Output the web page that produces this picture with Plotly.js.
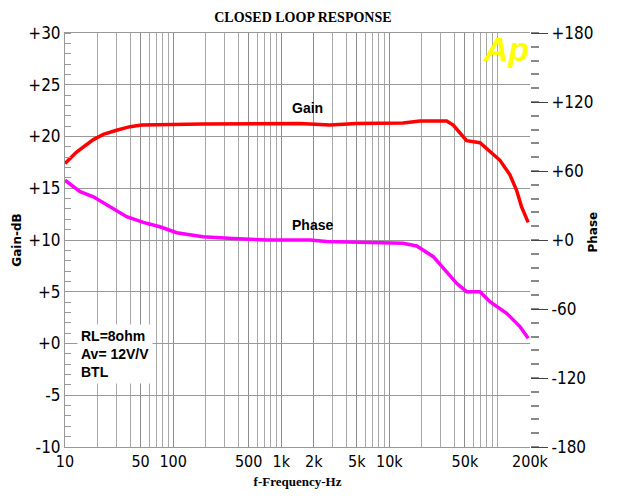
<!DOCTYPE html>
<html>
<head>
<meta charset="utf-8">
<script src="https://cdn.plot.ly/plotly-3.0.1.min.js"></script>
<style>html,body{margin:0;padding:0;background:#fff;}#chart{width:622px;height:500px;}</style>
</head>
<body>
<div id="chart"></div>
<script>
// Gain curve (frequency Hz, gain dB)
var gainFreq = [10, 12.8, 18.3, 22.6, 30, 40, 51, 189, 1490, 2820, 4980, 13400, 19200, 33900, 39000, 48200, 51800, 68900, 79400, 105500, 130400, 150300, 167200, 192400];
var gainDb   = [17.4, 18.5, 19.7, 20.2, 20.6, 20.95, 21.1, 21.2, 21.25, 21.1, 21.25, 21.3, 21.5, 21.5, 21.1, 20.0, 19.6, 19.4, 18.85, 17.7, 16.3, 14.8, 13.2, 11.7];
// Phase curve (frequency Hz, phase degrees)
var phaseFreq = [10, 13.8, 18.3, 26.1, 37.2, 53, 75.5, 108, 189, 358, 738, 1845, 2630, 13400, 17900, 25500, 33900, 41900, 51800, 68900, 85200, 121600, 161300, 192400];
var phaseDeg  = [52, 42, 37.5, 28.8, 20.3, 15.3, 11.5, 6.3, 2.9, 1.4, 0, 0, -1.4, -2.9, -5.2, -14.5, -27.5, -37.7, -44.9, -44.9, -53.6, -63.7, -75.3, -85.5];

// Axis tick labels
var xTickVals = [10, 50, 100, 500, 1000, 2000, 5000, 10000, 50000, 200000];
var xTickText = ['10', '50', '100', '500', '1k', '2k', '5k', '10k', '50k', '200k'];
var xGridVals = [20,30,40,60,70,80,90,200,300,400,600,700,800,900,3000,4000,6000,7000,8000,9000,20000,30000,40000,60000,70000,80000,90000,100000];
var yTickVals = [-10, -5, 0, 5, 10, 15, 20, 25, 30];
var yTickText = ['-10', '-5', '+0', '+5', '+10', '+15', '+20', '+25', '+30'];
var y2TickVals = [-180, -120, -60, 0, 60, 120, 180];
var y2TickText = ['-180', '-120', '-60', '+0', '+60', '+120', '+180'];

var tickFont = {family: 'Liberation Sans Narrow, "DejaVu Sans Condensed", Liberation Sans, sans-serif', size: 17, color: '#000'};
var boldSans = {family: 'Liberation Sans, Arial, sans-serif', size: 14, color: '#000'};

var traces = [
  {x: gainFreq, y: gainDb, type: 'scatter', mode: 'lines', name: 'Gain',
   line: {color: '#ff0000', width: 3.5}, xaxis: 'x', yaxis: 'y'},
  {x: phaseFreq, y: phaseDeg, type: 'scatter', mode: 'lines', name: 'Phase',
   line: {color: '#ff00ff', width: 3.5}, xaxis: 'x', yaxis: 'y2'}
];

var layout = {
  width: 622, height: 500,
  margin: {l: 65, r: 92, t: 33, b: 53},
  paper_bgcolor: '#fff', plot_bgcolor: '#fff',
  showlegend: false,
  title: {text: '<b>CLOSED LOOP RESPONSE</b>', x: 0.487, xanchor: 'center', y: 0.965, yanchor: 'middle',
          font: {family: 'Liberation Serif, Times New Roman, serif', size: 14, color: '#000'}},
  xaxis: {
    type: 'log', range: [1, Math.log10(200000)],
    tickmode: 'array', tickvals: xTickVals, ticktext: xTickText,
    tickfont: {family: tickFont.family, size: 16, color: '#000'},
    ticks: '', showgrid: true, gridcolor: '#8c8c8c', gridwidth: 1,
    minor: {tickmode: 'array', tickvals: xGridVals, showgrid: true, gridcolor: '#a8a8a8', gridwidth: 1, ticks: ''},
    showline: true, linecolor: '#999', linewidth: 1, mirror: true, zeroline: false,
    title: {text: '<b>f-Frequency-Hz</b>', standoff: 6,
            font: {family: 'Liberation Serif, Times New Roman, serif', size: 13, color: '#000'}}
  },
  yaxis: {
    range: [-10, 30], tickmode: 'array', tickvals: yTickVals, ticktext: yTickText,
    tickfont: tickFont, ticks: '', showgrid: true, gridcolor: '#999', gridwidth: 1,
    minor: {dtick: 1, ticks: 'inside', ticklen: 6, tickcolor: '#999', showgrid: false},
    showline: true, linecolor: '#999', linewidth: 1, zeroline: false,
    title: {text: '<b>Gain-dB</b>', standoff: 4, font: {family: 'DejaVu Sans, sans-serif', size: 12, color: '#000'}}
  },
  yaxis2: {
    overlaying: 'y', side: 'right', range: [-180, 180],
    tickmode: 'array', tickvals: y2TickVals, ticktext: y2TickText,
    tickfont: tickFont, ticks: 'outside', ticklen: 17, tickcolor: '#444', tickwidth: 1,
    minor: {dtick: 12, ticks: 'outside', ticklen: 8, tickcolor: '#888', tickwidth: 2, showgrid: false},
    showgrid: false, zeroline: false, showline: false
  },
  annotations: [
    {xref: 'x', yref: 'y', x: Math.log10(1734), y: 22.8, text: '<b>Gain</b>', showarrow: false, font: boldSans},
    {xref: 'x', yref: 'y', x: Math.log10(1930), y: 11.45, text: '<b>Phase</b>', showarrow: false, font: boldSans},
    {xref: 'paper', yref: 'paper', x: 0.026, y: 0.225, xanchor: 'left', yanchor: 'middle', align: 'left',
     text: '<b>RL=8ohm<br>Av= 12V/V<br>BTL</b>', showarrow: false, bgcolor: '#fff', borderpad: 3,
     font: {family: 'Liberation Sans, Arial, sans-serif', size: 14, color: '#000'}},
    {xref: 'paper', yref: 'paper', x: 0.948, y: 0.962, xanchor: 'center', yanchor: 'middle',
     text: '<b><i>Ap</i></b>', showarrow: false,
     font: {family: 'Liberation Sans, Arial, sans-serif', size: 34, color: '#ffff00'}},
    {xref: 'paper', yref: 'paper', x: 1.135, y: 0.52, xanchor: 'center', yanchor: 'middle',
     text: '<b>Phase</b>', textangle: -90, showarrow: false,
     font: {family: 'DejaVu Sans, sans-serif', size: 12, color: '#000'}}
  ]
};

Plotly.newPlot('chart', traces, layout, {displayModeBar: false, staticPlot: true});
</script>
</body>
</html>
